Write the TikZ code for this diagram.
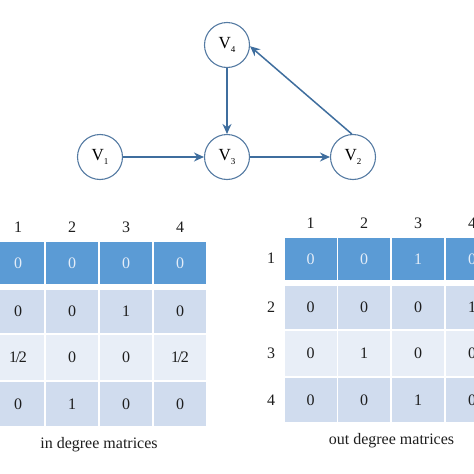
\documentclass[tikz,border=0pt]{standalone}
\usepackage{fontspec}
\setmainfont{Liberation Serif}
\usetikzlibrary{arrows.meta}
\definecolor{edgeblue}{HTML}{3F6E9E}
\definecolor{ringblue}{HTML}{557BA3}
\definecolor{headblue}{HTML}{5B9BD5}
\definecolor{bandA}{HTML}{D0DCEE}
\definecolor{bandB}{HTML}{E8EEF7}
\definecolor{headtext}{HTML}{E4EDF8}
\definecolor{bodytext}{HTML}{1E1E1E}
\tikzset{
  vertex/.style={circle, draw=ringblue, line width=1.1pt, fill=white, minimum size=45pt, inner sep=0pt, font=\fontsize{17}{19}\selectfont},
  edge/.style={draw=edgeblue, line width=1.5pt, -{Stealth[length=10pt,width=9pt]}},
  cell/.style={rectangle, minimum width=52pt, inner sep=0pt, font=\fontsize{16}{18}\selectfont, text=bodytext},
  lab/.style={font=\fontsize{16}{18}\selectfont, text=bodytext},
  captext/.style={font=\fontsize{16}{19}\selectfont, text=bodytext}
}
\newcommand{\vx}[1]{V\raisebox{-0.5ex}{\fontsize{9}{10}\selectfont #1}}
\newcommand{\half}{1\kern-0.08em/\kern-0.08em2}
\begin{document}
\begin{tikzpicture}[x=1pt,y=-1pt]
\useasboundingbox (0,0) rectangle (474,474);
\clip (0,0) rectangle (474,474);
\fill[white] (0,0) rectangle (474,474);
% graph
\node[vertex] (V4) at (227,45) {\vx{4}};
\node[vertex] (V1) at (100,157) {\vx{1}};
\node[vertex] (V3) at (227,157) {\vx{3}};
\node[vertex] (V2) at (353,157) {\vx{2}};
\draw[edge] (V1) -- (V3);
\draw[edge] (V3) -- (V2);
\draw[edge] (V4) -- (V3);
\draw[edge] (V2.93) -- (V4.-3);
% left table: in degree
\foreach \c/\x in {1/18,2/72,3/126,4/180} \node[lab] (LH\c) at (\x,227) {\c};
\foreach \c/\x/\v in {1/18/0,2/72/0,3/126/0,4/180/0}
  \node[cell, fill=headblue, text=headtext, minimum height=42pt] (L1\c) at (\x,263) {\v};
\foreach \c/\x/\v in {1/18/0,2/72/0,3/126/1,4/180/0}
  \node[cell, fill=bandA, minimum height=43pt] (L2\c) at (\x,311.5) {\v};
\foreach \c/\x/\v in {1/18/\half,2/72/0,3/126/0,4/180/\half}
  \node[cell, fill=bandB, minimum height=45pt] (L3\c) at (\x,357.5) {\v};
\foreach \c/\x/\v in {1/18/0,2/72/1,3/126/0,4/180/0}
  \node[cell, fill=bandA, minimum height=44pt] (L4\c) at (\x,404) {\v};
\node[captext] (capL) at (99,445) {in degree matrices};
% right table: out degree
\foreach \c/\x in {1/310.5,2/364.2,3/418,4/472} \node[lab] (RH\c) at (\x,223.5) {\c};
\foreach \r/\y in {1/258.5,2/307.5,3/353.5,4/400} \node[lab] (RR\r) at (271,\y) {\r};
\foreach \c/\x/\v in {1/310.5/0,2/364.2/0,3/418/1,4/472/0}
  \node[cell, fill=headblue, text=headtext, minimum height=42pt] (R1\c) at (\x,259) {\v};
\foreach \c/\x/\v in {1/310.5/0,2/364.2/0,3/418/0,4/472/1}
  \node[cell, fill=bandA, minimum height=43pt] (R2\c) at (\x,307.5) {\v};
\foreach \c/\x/\v in {1/310.5/0,2/364.2/1,3/418/0,4/472/0}
  \node[cell, fill=bandB, minimum height=45.5pt] (R3\c) at (\x,353.25) {\v};
\foreach \c/\x/\v in {1/310.5/0,2/364.2/0,3/418/1,4/472/0}
  \node[cell, fill=bandA, minimum height=44pt] (R4\c) at (\x,400) {\v};
\node[captext] (capR) at (391.5,441) {out degree matrices};
\end{tikzpicture}
\end{document}
